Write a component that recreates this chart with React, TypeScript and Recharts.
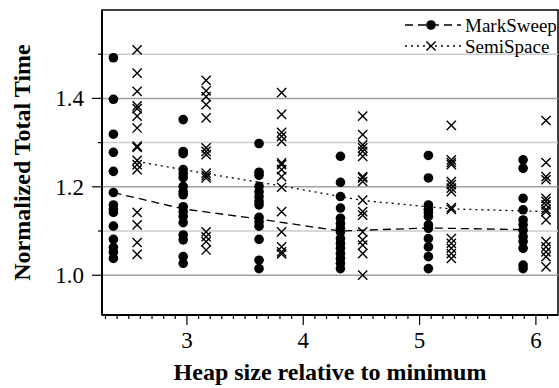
import {
  ScatterChart,
  Scatter,
  XAxis,
  YAxis,
  ReferenceLine,
  ReferenceArea,
} from "recharts";

const FONT = "'Liberation Serif', 'Times New Roman', serif";

// heap size positions of each column (the two collectors are dodged apart)
const markSweepHeap = [2.368, 2.968, 3.62, 4.32, 5.076, 5.89];
const semiSpaceHeap = [2.572, 3.165, 3.814, 4.511, 5.273, 6.087];

// individual runs per heap size
const markSweepRuns = [
  [1.492, 1.398, 1.319, 1.278, 1.235, 1.187, 1.159, 1.149, 1.142, 1.111, 1.081, 1.063, 1.052, 1.038],
  [1.352, 1.28, 1.275, 1.239, 1.23, 1.221, 1.201, 1.189, 1.182, 1.155, 1.144, 1.133, 1.119, 1.091, 1.08, 1.042, 1.027],
  [1.298, 1.233, 1.226, 1.201, 1.189, 1.178, 1.167, 1.159, 1.131, 1.121, 1.111, 1.081, 1.034, 1.015],
  [1.269, 1.21, 1.178, 1.152, 1.129, 1.117, 1.106, 1.098, 1.083, 1.072, 1.061, 1.049, 1.038, 1.027, 1.015],
  [1.271, 1.22, 1.159, 1.149, 1.142, 1.133, 1.114, 1.106, 1.083, 1.064, 1.042, 1.015],
  [1.261, 1.242, 1.174, 1.148, 1.125, 1.114, 1.102, 1.087, 1.076, 1.061, 1.023, 1.015],
];
const semiSpaceRuns = [
  [1.51, 1.457, 1.416, 1.383, 1.377, 1.36, 1.333, 1.292, 1.289, 1.26, 1.25, 1.239, 1.142, 1.114, 1.074, 1.047],
  [1.441, 1.417, 1.404, 1.386, 1.356, 1.288, 1.28, 1.273, 1.231, 1.225, 1.22, 1.098, 1.087, 1.076, 1.057],
  [1.413, 1.364, 1.323, 1.314, 1.303, 1.254, 1.25, 1.239, 1.223, 1.199, 1.144, 1.098, 1.064, 1.053, 1.048],
  [1.36, 1.318, 1.295, 1.288, 1.28, 1.269, 1.223, 1.22, 1.212, 1.17, 1.144, 1.136, 1.098, 1.08, 1.068, 1.049, 1.0],
  [1.339, 1.261, 1.255, 1.25, 1.212, 1.205, 1.197, 1.189, 1.153, 1.149, 1.083, 1.072, 1.061, 1.049, 1.038],
  [1.35, 1.255, 1.223, 1.216, 1.174, 1.167, 1.159, 1.149, 1.144, 1.125, 1.076, 1.064, 1.053, 1.042, 1.019],
];

// fitted trend through each column
const markSweepTrend = [1.187, 1.15, 1.127, 1.1, 1.107, 1.103];
const semiSpaceTrend = [1.257, 1.23, 1.202, 1.169, 1.15, 1.144];

const seriesNames = ["MarkSweep", "SemiSpace"];

const xDomain = [2.27, 6.19];
const yDomain = [0.91, 1.6];
const xMajorTicks = [3, 4, 5, 6];
const xMinorTicks = Array.from({ length: 39 }, (_, i) => Math.round(23 + i) / 10);
const yTicks = [1.0, 1.1, 1.2, 1.3, 1.4, 1.5];
const yLabelled = [1.0, 1.2, 1.4];

const toPoints = (xs: number[], runs: number[][]) =>
  xs.flatMap((x, i) => runs[i].map((y) => ({ x, y })));

const msPoints = toPoints(markSweepHeap, markSweepRuns);
const ssPoints = toPoints(semiSpaceHeap, semiSpaceRuns);
const msTrendPts = markSweepHeap.map((x, i) => ({ x, y: markSweepTrend[i] }));
const ssTrendPts = semiSpaceHeap.map((x, i) => ({ x, y: semiSpaceTrend[i] }));

const isLabelled = (v: number) => yLabelled.some((t) => Math.abs(t - v) < 1e-6);

function XTick({ x, y, payload }: any) {
  const v = payload.value;
  const major = xMajorTicks.includes(v);
  return (
    <g>
      <line x1={x} x2={x} y1={y} y2={y + (major ? 10 : 4)} stroke="#000" strokeWidth={1.2} />
      {major && (
        <text x={x} y={y + 33} textAnchor="middle" fontSize={23} fontFamily={FONT} fill="#000">
          {v}
        </text>
      )}
    </g>
  );
}

function YTick({ x, y, payload }: any) {
  const v = payload.value;
  const major = isLabelled(v);
  return (
    <g>
      <line x1={x} x2={x - (major ? 10 : 4)} y1={y} y2={y} stroke="#000" strokeWidth={1.2} />
      {major && (
        <text x={x - 18} y={y + 8} textAnchor="end" fontSize={23} fontFamily={FONT} fill="#000">
          {v.toFixed(1)}
        </text>
      )}
    </g>
  );
}

function Dot({ cx, cy }: any) {
  return <circle cx={cx} cy={cy} r={4.8} fill="#000" />;
}

function Cross({ cx, cy }: any) {
  const s = 4.6;
  return (
    <path
      d={`M${cx - s},${cy - s}L${cx + s},${cy + s}M${cx - s},${cy + s}L${cx + s},${cy - s}`}
      stroke="#000"
      strokeWidth={1.4}
      fill="none"
    />
  );
}

const Nothing = () => <g />;

function ChartLegend() {
  return (
    <svg width={156} height={56} style={{ position: "absolute", left: 400, top: 8 }}>
      <line x1={5} x2={61} y1={17} y2={17} stroke="#000" strokeWidth={1.3} strokeDasharray="8 5" />
      <circle cx={31} cy={17} r={4.8} fill="#000" />
      <text x={65} y={23.5} fontSize={19} fontFamily={FONT}>{seriesNames[0]}</text>
      <line x1={5} x2={61} y1={38} y2={38} stroke="#000" strokeWidth={1.3} strokeDasharray="2 4" />
      <Cross cx={31} cy={38} />
      <text x={65} y={44.5} fontSize={19} fontFamily={FONT}>{seriesNames[1]}</text>
    </svg>
  );
}

export default function App() {
  return (
    <div
      style={{
        position: "absolute",
        left: 0,
        top: 0,
        width: 559,
        height: 388,
        background: "#fff",
        fontFamily: FONT,
      }}
    >
      <ScatterChart width={559} height={388} margin={{ top: 10, right: 1, bottom: 0, left: 0 }}>
        <XAxis
          type="number"
          dataKey="x"
          domain={xDomain}
          ticks={xMinorTicks}
          interval={0}
          tickSize={0}
          tickMargin={0}
          tick={<XTick />}
          axisLine={{ stroke: "#000", strokeWidth: 2 }}
          height={73}
          allowDataOverflow
          label={{
            value: "Heap size relative to minimum",
            position: "insideBottom",
            offset: 8,
            style: { fontSize: 24, fontWeight: "bold", fontFamily: FONT, fill: "#000" },
          }}
        />
        <YAxis
          type="number"
          dataKey="y"
          domain={yDomain}
          ticks={yTicks}
          interval={0}
          tickSize={0}
          tickMargin={0}
          tick={<YTick />}
          axisLine={{ stroke: "#000", strokeWidth: 2 }}
          width={102}
          allowDataOverflow
          label={{
            value: "Normalized Total Time",
            angle: -90,
            position: "insideLeft",
            offset: 21,
            style: { textAnchor: "middle", fontSize: 24, fontWeight: "bold", fontFamily: FONT, fill: "#000" },
          }}
        />
        {yTicks.map((v) => (
          <ReferenceLine
            key={v}
            y={v}
            stroke={isLabelled(v) ? "#a0a0a0" : "#cccccc"}
            strokeWidth={1.5}
          />
        ))}
        <ReferenceArea
          x1={xDomain[0]}
          x2={xDomain[1]}
          y1={yDomain[0]}
          y2={yDomain[1]}
          fill="none"
          stroke="#000"
          strokeWidth={1.5}
          fillOpacity={0}
        />
        <Scatter data={msPoints} shape={<Dot />} isAnimationActive={false} />
        <Scatter data={ssPoints} shape={<Cross />} isAnimationActive={false} />
        <Scatter
          data={msTrendPts}
          line={{ stroke: "#000", strokeWidth: 1.3, strokeDasharray: "8 5" }}
          shape={<Nothing />}
          isAnimationActive={false}
        />
        <Scatter
          data={ssTrendPts}
          line={{ stroke: "#000", strokeWidth: 1.3, strokeDasharray: "2 4" }}
          shape={<Nothing />}
          isAnimationActive={false}
        />
      </ScatterChart>
      <ChartLegend />
    </div>
  );
}
